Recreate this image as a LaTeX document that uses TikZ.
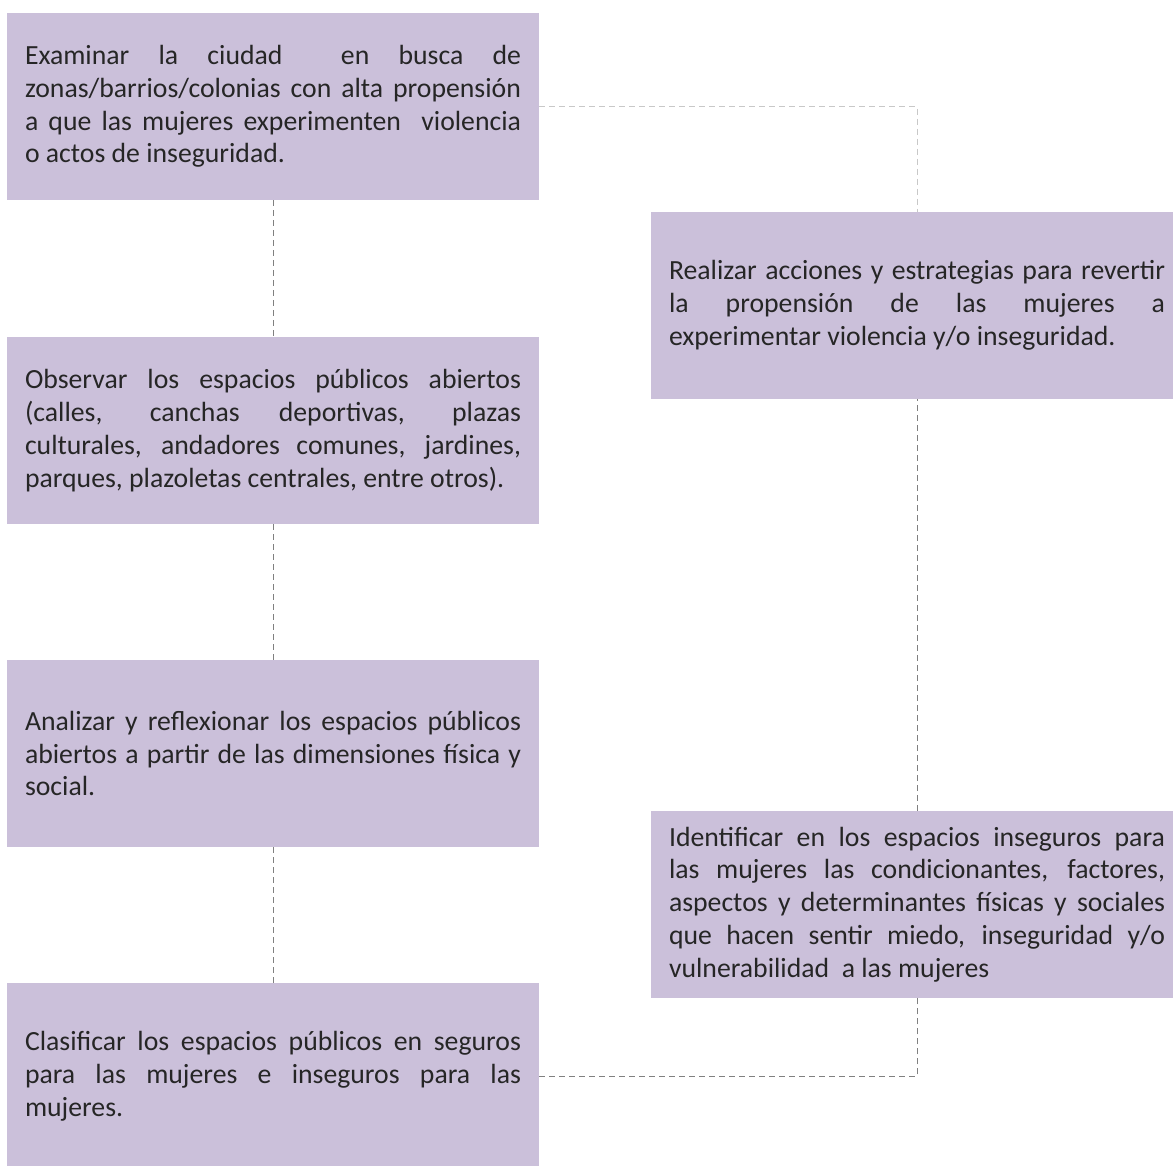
\documentclass[tikz,border=0pt]{standalone}
\usepackage{fontspec}
\setmainfont{Carlito}
\definecolor{boxfill}{HTML}{CBC0DA}
\definecolor{textgray}{HTML}{262626}
\definecolor{linkdark}{HTML}{808080}
\definecolor{linklight}{HTML}{C8C8C8}
\newcommand\cajafont{\fontsize{20.8pt}{24.6pt}\selectfont}
\hbadness=10000

\begin{document}
\begin{tikzpicture}[x=0.75pt,y=-0.75pt,
    caja/.style={fill=boxfill, text=textgray, font=\cajafont, inner sep=0pt,
        minimum width=399pt, minimum height=140.25pt, text width=372pt, align=justify},
    link/.style={draw=linkdark, line width=0.75pt, dash pattern=on 4.5pt off 3pt}]
                    \clip (0,0) rectangle (1173,1165);
                    \def\leftcol{273}
                    \def\rightcol{917}

                    \node[caja] (examinar) at (\leftcol,106.5) {Examinar la ciudad\ \ en busca de\linebreak zonas/barrios/colonias con alta propensión\linebreak a que las mujeres experimenten\ \ violencia\linebreak o actos de inseguridad.};
                    \node[caja] (observar) at (\leftcol,430.5) {Observar los espacios públicos abiertos\linebreak (calles, canchas deportivas, plazas\linebreak culturales, andadores comunes, jardines,\linebreak parques, plazoletas centrales, entre otros).};
                    \node[caja] (analizar) at (\leftcol,753.5) {Analizar y reflexionar los espacios públicos\linebreak abiertos a partir de las dimensiones física y\linebreak social.};
                    \node[caja] (clasificar) at (\leftcol,1076.5) {Clasificar los espacios públicos en seguros\linebreak para las mujeres e inseguros para las\linebreak mujeres.};

                    \node[caja] (realizar) at (\rightcol,305.5) {Realizar acciones y estrategias para revertir\linebreak la propensión de las mujeres a\linebreak experimentar violencia y/o inseguridad.};
                    \node[caja] (identificar) at (\rightcol,904.5) {Identificar en los espacios inseguros para\linebreak las mujeres las condicionantes, factores,\linebreak aspectos y determinantes físicas y sociales\linebreak que hacen sentir miedo, inseguridad y/o\linebreak vulnerabilidad\ \ a las mujeres};

                    \draw[link] (examinar) -- (observar);
                    \draw[link] (observar) -- (analizar);
                    \draw[link] (analizar) -- (clasificar);
                    \draw[link] (clasificar.east) -| (identificar.south); % back up the right side
                    \draw[link] (identificar) -- (realizar);
                    \draw[link, draw=linklight] (examinar.east) -| (realizar.north); % light one
\end{tikzpicture}
\end{document}
